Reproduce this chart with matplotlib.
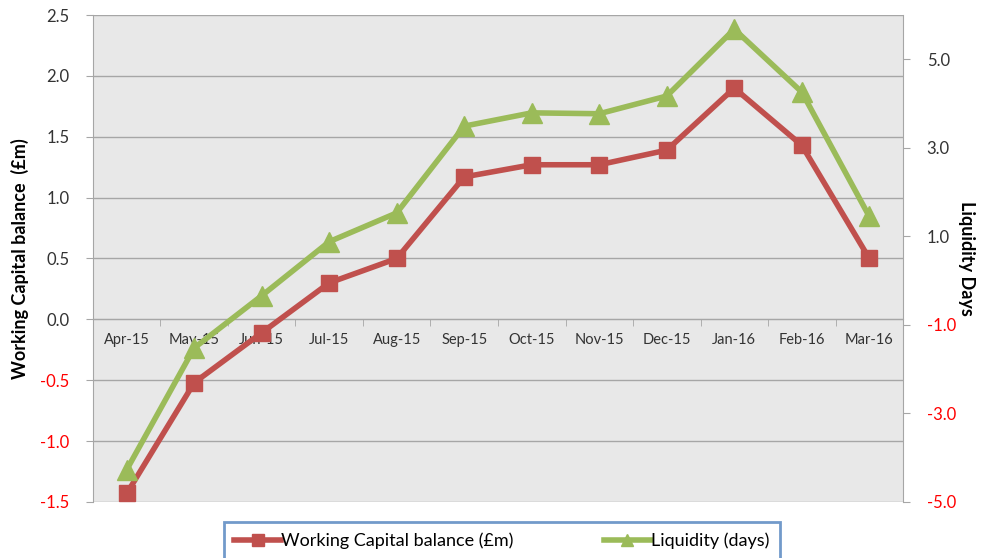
import matplotlib.pyplot as plt
from matplotlib.ticker import FixedLocator

months = ["Apr-15", "May-15", "Jun-15", "Jul-15", "Aug-15", "Sep-15",
          "Oct-15", "Nov-15", "Dec-15", "Jan-16", "Feb-16", "Mar-16"]
working_capital = [-1.43, -0.52, -0.11, 0.30, 0.50, 1.17, 1.27, 1.27, 1.39, 1.90, 1.43, 0.50]
liquidity_days = [-4.27, -1.52, -0.34, 0.88, 1.53, 3.49, 3.79, 3.77, 4.17, 5.68, 4.26, 1.45]

left_ticks = [-1.5, -1.0, -0.5, 0.0, 0.5, 1.0, 1.5, 2.0, 2.5]
right_ticks = [-5.0, -3.0, -1.0, 1.0, 3.0, 5.0]

red = "#C0504D"
green = "#9BBB59"
grey = "#A6A6A6"

plt.rcParams['font.family'] = ['Lato', 'DejaVu Sans']

fig = plt.figure(figsize=(9.84, 5.58), dpi=100)
ax = fig.add_axes([0.0945, 0.1004, 0.8232, 0.8727])
ax.set_facecolor("#E8E8E8")
x = list(range(len(months)))

ax.set_xlim(-0.5, len(months) - 0.5)
ax.set_ylim(-1.5, 2.5)
ax.yaxis.set_major_locator(FixedLocator(left_ticks))
ax.set_yticklabels([f"{v:.1f}" for v in left_ticks])
for lbl, v in zip(ax.get_yticklabels(), left_ticks):
    lbl.set_color("red" if v < 0 else "#333333")
ax.grid(axis="y", color=grey, linewidth=1.0)
ax.set_axisbelow(True)

# category axis sits on zero
ax.spines["bottom"].set_position(("data", 0))
ax.spines["bottom"].set_color(grey)
ax.spines["top"].set_visible(False)
ax.spines["right"].set_visible(False)
ax.spines["left"].set_color(grey)
ax.set_xticks(x)
ax.set_xticklabels(months)
ax.set_xticks([i + 0.5 for i in range(-1, len(months))], minor=True)
ax.tick_params(axis="x", which="major", length=0, pad=10, labelsize=10.5, labelcolor="#333333")
ax.tick_params(axis="x", which="minor", length=5, color=grey, direction="out")
ax.tick_params(axis="y", length=5, color=grey, labelsize=12, pad=12)
ax.set_ylabel("Working Capital balance  (£m)", fontsize=13, fontweight="bold", labelpad=8)

l1, = ax.plot(x, working_capital, color=red, linewidth=4, marker="s", markersize=12,
              label="Working Capital balance (£m)", zorder=3, clip_on=False)

ax2 = ax.twinx()
ax2.set_ylim(-5.0, 6.0)
ax2.yaxis.set_major_locator(FixedLocator(right_ticks))
ax2.set_yticklabels([f"{v:.1f}" for v in right_ticks])
for lbl, v in zip(ax2.get_yticklabels(), right_ticks):
    lbl.set_color("red" if v < 0 else "#333333")
for s in ["top", "bottom", "left"]:
    ax2.spines[s].set_visible(False)
ax2.spines["right"].set_color(grey)
ax2.tick_params(axis="y", length=5, color=grey, labelsize=12, pad=12)
ax2.set_ylabel("Liquidity Days", fontsize=13, fontweight="bold", rotation=-90, labelpad=14)

l2, = ax2.plot(x, liquidity_days, color=green, linewidth=4, marker="^", markersize=14,
               label="Liquidity (days)", zorder=3, clip_on=False)

leg = fig.legend(handles=[l1, l2], loc="upper center", bbox_to_anchor=(0.51, 0.0645),
                 ncol=2, frameon=True, fancybox=False, fontsize=13, handlelength=2.6,
                 handletextpad=0.0, columnspacing=5.0, borderpad=0.6,
                 borderaxespad=0.0)
leg.get_frame().set_edgecolor("#4F81BD")
leg.get_frame().set_linewidth(2)
for h in leg.legend_handles:
    h.set_markersize(8)

fig.savefig("out.png", dpi=100)
